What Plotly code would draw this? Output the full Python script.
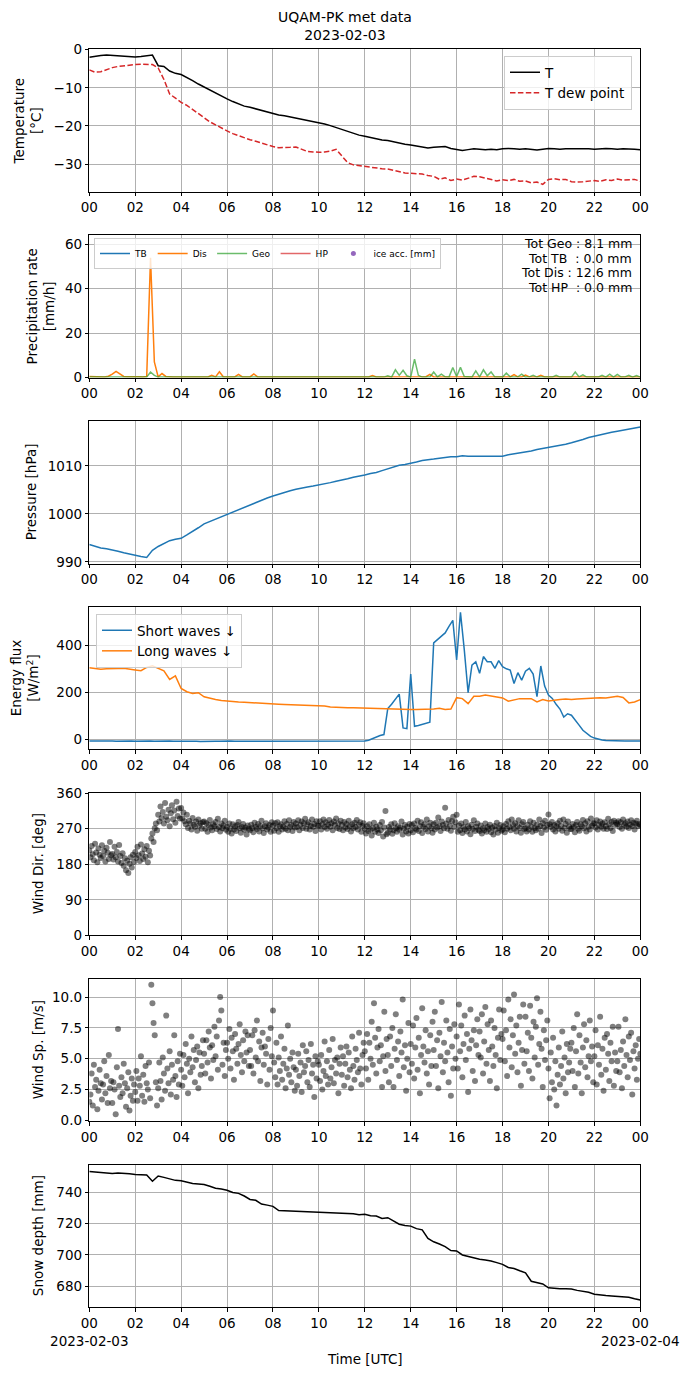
import pandas as pd
import plotly.graph_objects as go
from plotly.subplots import make_subplots

# ---- data, 2023-02-03 (UTC) ----
day_start = pd.Timestamp('2023-02-03 00:00')
day_end = pd.Timestamp('2023-02-04 00:00')

# temperature [degC], 15 min
temp = [-2.0, -1.7, -1.5, -1.4, -1.5, -1.6, -1.8, -1.9, -1.9, -1.8, -1.6, -1.4,
        -4.2, -4.4, -5.6, -6.2, -6.5, -7.2, -8.1, -9.0, -9.8, -10.6, -11.5, -12.2,
        -12.9, -13.6, -14.3, -14.8, -15.1, -15.5, -15.9, -16.4, -16.8, -17.1, -17.3, -17.6,
        -17.8, -18.1, -18.4, -18.7, -19.1, -19.5, -19.9, -20.4, -21.0, -21.5, -21.9, -22.4,
        -22.7, -23.1, -23.5, -23.7, -23.8, -24.2, -24.6, -24.8, -25.0, -25.3, -25.5, -25.8,
        -25.6, -25.5, -25.4, -25.9, -26.1, -26.4, -26.2, -26.0, -26.1, -26.2, -26.1, -26.2,
        -26.0, -25.9, -26.0, -26.1, -26.0, -26.1, -26.3, -26.1, -25.9, -26.0, -26.1, -26.0,
        -26.0, -26.0, -25.9, -26.0, -26.1, -26.0, -25.9, -26.0, -26.1, -26.0, -26.0, -26.1,
        -26.2]
dew_point = [-5.3, -5.9, -5.8, -5.2, -4.7, -4.4, -4.2, -4.0, -3.9, -3.8, -3.8, -3.9,
             -4.8, -7.8, -11.6, -12.8, -13.8, -14.6, -15.7, -16.9, -17.9, -18.9, -19.7, -20.6,
             -21.3, -22.0, -22.6, -23.2, -23.6, -24.0, -24.5, -25.0, -25.4, -25.7, -25.7, -25.6,
             -25.5, -26.2, -26.7, -26.8, -26.9, -26.8, -26.6, -26.1, -27.8, -29.6, -30.2, -30.4,
             -30.6, -30.9, -31.1, -31.2, -31.3, -31.6, -31.9, -32.3, -32.4, -32.5, -32.6, -33.0,
             -33.2, -34.0, -33.6, -34.3, -33.9, -34.2, -33.7, -33.2, -33.3, -33.6, -33.9, -34.4,
             -34.1, -34.3, -34.0, -34.5, -34.4, -34.9, -34.7, -35.3, -34.0, -33.8, -34.1, -34.0,
             -34.6, -34.7, -34.6, -34.5, -34.3, -34.5, -34.1, -34.3, -33.9, -34.2, -34.1, -34.0,
             -34.5]

# precipitation rate [mm/h], 10 min
dis_rate = [0.5, 0.4, 0.5, 0.4, 0.3, 0.6, 1.5, 2.8, 1.6, 0.5, 0.4, 0.5,
            0.6, 0.4, 0.3, 0.5, 54.0, 7.0, 0.3, 1.8, 0.5, 0.3, 0.3, 0.3,
            0.3, 0.3, 0.3, 0.3, 0.3, 0.3, 0.3, 0.3, 1.0, 0.3, 2.6, 0.4,
            0.3, 0.3, 0.3, 1.4, 0.3, 0.3, 0.3, 1.6, 0.3, 0.3, 0.3, 0.3,
            0.3, 0.3, 0.3, 0.3, 0.3, 0.3, 0.3, 0.3, 0.3, 0.3, 0.3, 0.3,
            0.3, 0.3, 0.3, 0.3, 0.3, 0.3, 0.3, 0.3, 0.3, 0.3, 0.3, 0.3,
            0.3, 0.3, 0.9, 0.3, 0.3, 0.3, 0.3, 0.3, 0.3, 0.3, 0.3, 0.3,
            0.3, 0.3, 0.3, 0.3, 0.4, 1.4, 0.3, 0.3, 0.3, 0.3, 0.3, 0.3,
            0.3, 0.3, 0.3, 0.3, 0.3, 0.3, 0.3, 0.3, 0.3, 0.3, 0.3, 0.3,
            0.3, 0.3, 0.3, 1.3, 0.3, 0.3, 1.1, 0.3, 0.3, 0.3, 1.0, 0.3,
            0.3, 0.3, 0.3, 0.3, 0.3, 0.3, 0.3, 0.3, 0.3, 0.3, 0.3, 0.3,
            0.3, 0.3, 0.3, 0.3, 0.3, 0.3, 0.3, 0.3, 0.3, 0.3, 0.3, 0.3,
            0.3]
geo_rate = [0.2, 0.2, 0.2, 0.2, 0.2, 0.2, 0.2, 0.2, 0.2, 0.2, 0.2, 0.2,
            0.2, 0.2, 0.2, 0.2, 2.5, 1.0, 0.2, 0.2, 0.2, 0.2, 0.2, 0.2,
            0.2, 0.2, 0.2, 0.2, 0.2, 0.2, 0.2, 0.2, 0.2, 0.2, 0.2, 0.2,
            0.2, 0.2, 0.2, 0.2, 0.2, 0.2, 0.2, 0.2, 0.2, 0.2, 0.2, 0.2,
            0.2, 0.2, 0.2, 0.2, 0.2, 0.2, 0.2, 0.2, 0.2, 0.2, 0.2, 0.2,
            0.2, 0.2, 0.2, 0.2, 0.2, 0.2, 0.2, 0.2, 0.2, 0.2, 0.5, 0.2,
            0.2, 0.2, 0.2, 0.2, 0.2, 0.2, 0.8, 0.2, 3.5, 1.0, 3.3, 0.8,
            0.2, 8.3, 1.0, 0.2, 0.2, 0.2, 2.5, 0.3, 1.5, 0.3, 0.2, 4.5,
            0.5, 4.6, 0.5, 0.2, 0.2, 3.0, 0.3, 3.5, 0.8, 2.5, 0.2, 0.2,
            0.2, 2.0, 0.3, 0.2, 0.3, 1.5, 0.2, 0.3, 1.0, 0.2, 0.2, 0.2,
            0.2, 0.2, 1.0, 0.2, 0.2, 0.2, 0.2, 2.5, 0.3, 1.2, 0.2, 0.2,
            0.2, 0.2, 1.0, 0.2, 1.5, 0.2, 1.4, 0.2, 0.3, 1.0, 0.2, 0.9,
            0.2]
precip_totals = {'Geo': 8.1, 'TB': 0.0, 'Dis': 12.6, 'HP': 0.0}

# pressure [hPa], 15 min
pressure = [993.6, 993.2, 992.9, 992.7, 992.5, 992.2, 991.9, 991.6, 991.3, 991.1, 990.9, 992.4,
            993.2, 993.8, 994.4, 994.7, 994.9, 995.6, 996.3, 997.1, 997.9, 998.4, 998.9, 999.4,
            999.8, 1000.4, 1000.9, 1001.4, 1001.9, 1002.4, 1002.8, 1003.3, 1003.7, 1004.1, 1004.5, 1004.8,
            1005.1, 1005.4, 1005.6, 1005.8, 1006.0, 1006.3, 1006.5, 1006.8, 1007.0, 1007.3, 1007.6, 1007.8,
            1008.1, 1008.4, 1008.6, 1009.0, 1009.4, 1009.8, 1010.1, 1010.3, 1010.5, 1010.8, 1011.1, 1011.2,
            1011.4, 1011.6, 1011.8, 1011.9, 1011.9, 1012.1, 1012.0, 1012.0, 1012.0, 1012.0, 1011.9, 1011.9,
            1012.0, 1012.3, 1012.5, 1012.6, 1012.8, 1013.1, 1013.4, 1013.6, 1013.8, 1014.0, 1014.2, 1014.5,
            1014.8, 1015.1, 1015.5, 1015.9, 1016.2, 1016.5, 1016.7, 1017.0, 1017.2, 1017.4, 1017.6, 1017.9,
            1018.1]

# radiation [W/m2]: short waves 10 min, long waves 15 min
short_waves = [-5, -4, -6, -5, -5, -4, -5, -6, -5, -4, -5, -5,
               -6, -5, -4, -5, -5, -6, -5, -5, -4, -5, -6, -5,
               -7, -6, -6, -5, -6, -7, -6, -6, -5, -6, -6, -5,
               -6, -5, -6, -6, -5, -5, -6, -5, -5, -6, -5, -5,
               -5, -6, -5, -5, -4, -5, -5, -5, -6, -5, -5, -5,
               -6, -5, -5, -6, -5, -5, -5, -5, -6, -5, -5, -5,
               -5, -2, 5, 11, 18, 22, 132, 150, 170, 193, 50, 47,
               278, 57, 60, 65, 70, 74, 410, 425, 440, 452, 480, 505,
               338, 539, 380, 199, 316, 330, 281, 352, 330, 330, 302, 335,
               309, 300, 295, 238, 284, 252, 290, 302, 278, 182, 312, 227,
               189, 175, 150, 130, 96, 110, 104, 85, 62, 40, 25, 14,
               7, 2, -1, -3, -4, -5, -5, -4, -5, -5, -4, -5,
               -5]
long_waves = [305, 300, 298, 300, 302, 301, 302, 300, 295, 292, 306, 313,
              302, 292, 255, 270, 217, 203, 196, 199, 182, 175, 170, 166,
              163, 161, 160, 159, 157, 155, 153, 151, 150, 150, 149, 148,
              148, 147, 146, 146, 146, 143, 139, 137, 136, 135, 135, 134,
              133, 133, 132, 131, 130, 130, 129, 129, 128, 128, 128, 130,
              130, 133, 128, 130, 178, 174, 153, 184, 184, 189, 184, 182,
              177, 163, 170, 174, 174, 174, 160, 170, 164, 168, 170, 172,
              170, 172, 174, 176, 177, 178, 177, 180, 184, 179, 156, 160,
              170]

# wind direction [deg], 3 min (one row per hour)
wind_dir = [215, 198, 226, 205, 190, 232, 210, 185, 220, 204, 196, 228, 201, 214, 187, 222, 209, 193, 236, 203,
            206, 192, 224, 198, 211, 187, 229, 201, 183, 208, 176, 195, 165, 189, 158, 181, 198, 172, 204, 186,
            211, 196, 224, 203, 188, 230, 207, 193, 218, 199, 226, 185, 214, 202, 245, 258, 236, 271, 283, 266,
            305, 288, 326, 297, 312, 283, 335, 300, 291, 318, 276, 309, 329, 294, 316, 285, 338, 302, 321, 296,
            322, 296, 311, 289, 281, 305, 272, 290, 283, 268, 297, 280, 275, 288, 265, 293, 278, 284, 270, 286,
            288, 270, 284, 262, 279, 292, 273, 266, 281, 276, 287, 269, 295, 274, 263, 283, 271, 278, 290, 267,
            275, 262, 283, 270, 258, 281, 268, 276, 264, 279, 287, 271, 260, 274, 282, 267, 273, 255, 278, 269,
            266, 280, 272, 261, 285, 274, 269, 282, 263, 277, 290, 271, 259, 276, 284, 268, 273, 279, 262, 286,
            278, 265, 284, 271, 286, 262, 276, 281, 268, 275, 289, 270, 282, 266, 291, 274, 279, 264, 287, 273,
            283, 274, 291, 266, 279, 288, 272, 284, 295, 270, 281, 286, 268, 277, 293, 275, 282, 264, 289, 278,
            277, 289, 268, 281, 293, 274, 286, 270, 280, 292, 275, 284, 266, 288, 279, 296, 272, 283, 269, 290,
            279, 266, 287, 273, 282, 269, 290, 276, 263, 281, 271, 285, 274, 292, 268, 280, 286, 262, 277, 284,
            270, 258, 276, 264, 281, 267, 253, 272, 285, 262, 275, 268, 259, 279, 266, 287, 250, 273, 315, 256,
            260, 274, 268, 281, 257, 266, 284, 271, 262, 276, 267, 273, 288, 255, 270, 279, 263, 275, 258, 282,
            266, 279, 261, 283, 272, 268, 290, 264, 277, 286, 259, 274, 281, 269, 293, 263, 276, 285, 271, 260,
            281, 268, 285, 273, 298, 276, 264, 288, 279, 271, 323, 283, 270, 292, 277, 265, 289, 300, 274, 286,
            305, 262, 278, 266, 283, 259, 274, 268, 287, 263, 276, 271, 256, 280, 269, 291, 264, 275, 283, 267,
            264, 278, 258, 271, 266, 283, 262, 274, 269, 280, 261, 273, 255, 277, 268, 285, 260, 272, 279, 265,
            268, 276, 261, 282, 270, 289, 274, 266, 293, 279, 270, 284, 263, 277, 291, 272, 260, 281, 287, 269,
            271, 263, 280, 268, 289, 275, 262, 285, 272, 266, 280, 270, 293, 277, 259, 284, 273, 290, 267, 279,
            306, 281, 274, 287, 268, 279, 263, 276, 284, 270, 290, 277, 265, 293, 272, 282, 260, 288, 275, 269,
            269, 282, 274, 261, 279, 287, 270, 265, 281, 276, 292, 271, 284, 263, 289, 275, 268, 296, 278, 283,
            284, 273, 291, 268, 279, 288, 275, 283, 270, 286, 277, 269, 295, 281, 272, 287, 264, 290, 279, 285,
            281, 289, 274, 286, 270, 293, 279, 284, 275, 288, 272, 280, 291, 277, 285, 268, 283, 290, 276, 282,
            279]

# wind speed [m/s], 3 min (one row per hour)
wind_speed = [1.5, 2.1, 3.8, 1.2, 4.5, 2.7, 3.3, 0.9, 2.4, 4.1, 3.0, 1.7, 2.9, 4.8, 2.2, 3.6, 1.4, 5.3, 2.6, 3.2,
              1.4, 3.1, 2.5, 0.5, 4.3, 7.4, 2.8, 1.9, 3.5, 2.2, 4.6, 3.0, 1.1, 2.6, 3.9, 0.8, 2.0, 3.4, 1.6, 2.9,
              2.3, 4.0, 1.6, 3.4, 2.8, 5.2, 2.0, 3.7, 1.5, 4.4, 3.0, 2.5, 4.7, 1.8, 11.0, 9.5, 7.9, 6.9, 3.1, 1.2,
              2.6, 4.7, 3.2, 1.7, 5.1, 3.8, 2.4, 8.5, 4.2, 3.0, 5.6, 2.1, 4.5, 3.3, 6.9, 3.6, 1.9, 4.8, 2.9, 5.4,
              4.1, 2.8, 5.3, 3.5, 6.2, 4.6, 2.2, 5.0, 3.9, 6.8, 4.3, 5.7, 3.1, 4.9, 6.0, 2.6, 5.5, 3.7, 4.4, 6.5,
              5.4, 3.8, 6.5, 4.7, 7.2, 5.9, 3.4, 6.1, 4.9, 7.6, 5.2, 6.8, 4.1, 8.1, 10.0, 8.9, 4.5, 6.3, 3.6, 5.7,
              6.3, 5.0, 7.4, 4.2, 6.7, 5.6, 3.3, 7.0, 5.8, 4.6, 6.2, 7.8, 5.3, 3.9, 6.5, 4.8, 7.2, 5.5, 6.9, 4.4,
              5.7, 4.4, 6.9, 3.8, 7.3, 5.1, 8.1, 4.8, 6.4, 3.2, 5.9, 7.1, 4.5, 6.0, 5.4, 2.9, 6.6, 4.1, 7.5, 5.2,
              8.9, 4.7, 3.5, 6.3, 2.9, 5.1, 4.0, 6.8, 3.3, 4.6, 5.8, 2.6, 4.2, 7.7, 3.7, 5.0, 3.1, 5.5, 4.3, 2.4,
              4.1, 2.8, 5.4, 3.6, 4.7, 2.3, 6.1, 3.9, 4.4, 5.6, 3.1, 4.9, 2.7, 6.2, 3.8, 4.5, 1.9, 5.2, 3.4, 4.8,
              4.5, 3.2, 5.3, 2.5, 4.0, 6.4, 3.6, 4.8, 2.9, 5.7, 3.4, 4.3, 6.6, 3.0, 4.9, 3.8, 5.1, 2.2, 4.6, 5.9,
              3.7, 5.2, 2.8, 4.6, 6.0, 3.5, 5.5, 4.1, 2.6, 6.8, 4.4, 3.3, 5.8, 4.9, 3.9, 7.1, 4.2, 2.9, 5.3, 6.3,
              5.6, 4.2, 7.0, 3.3, 6.3, 5.0, 8.0, 4.5, 9.5, 6.7, 3.8, 5.9, 7.4, 4.8, 6.1, 2.7, 5.2, 8.8, 4.0, 6.6,
              5.3, 3.1, 6.8, 4.4, 7.5, 2.7, 5.8, 8.6, 4.9, 6.4, 3.6, 7.2, 5.5, 9.8, 4.3, 6.1, 2.4, 5.0, 7.9, 3.9,
              6.2, 4.6, 7.7, 3.4, 5.9, 8.3, 4.1, 6.7, 2.2, 5.3, 9.1, 6.0, 4.7, 7.3, 3.8, 5.6, 2.9, 6.9, 4.4, 8.0,
              5.7, 8.8, 4.4, 6.5, 2.6, 7.1, 5.2, 9.6, 3.9, 6.3, 4.8, 8.1, 5.5, 3.1, 7.4, 2.0, 6.0, 4.2, 7.8, 5.0,
              6.8, 4.2, 9.4, 5.6, 7.7, 3.5, 6.2, 8.5, 4.9, 7.0, 2.3, 5.8, 9.0, 6.5, 4.0, 7.3, 3.2, 6.1, 8.2, 5.3,
              7.2, 5.1, 8.6, 3.8, 6.4, 9.2, 4.6, 7.8, 5.7, 3.2, 8.1, 6.0, 4.4, 7.5, 5.3, 2.6, 6.7, 9.0, 4.9, 7.0,
              6.6, 8.9, 4.8, 7.3, 3.6, 9.8, 5.9, 8.2, 4.3, 6.9, 10.2, 5.4, 7.7, 3.9, 6.3, 8.4, 2.8, 5.7, 9.4, 4.6,
              8.4, 5.6, 7.1, 4.0, 9.3, 6.7, 3.4, 8.0, 5.1, 7.6, 9.9, 4.5, 6.2, 8.8, 5.8, 2.7, 7.3, 4.9, 6.5, 8.1,
              4.2, 1.8, 5.5, 3.1, 6.7, 2.5, 4.8, 1.2, 3.7, 5.9, 2.9, 4.4, 7.2, 3.4, 5.1, 2.2, 6.2, 3.9, 4.7, 5.8,
              6.3, 4.0, 7.5, 2.7, 5.6, 8.6, 3.8, 6.9, 4.7, 2.2, 5.9, 7.8, 4.3, 6.5, 3.5, 5.2, 8.1, 4.8, 6.0, 3.1,
              5.2, 7.3, 2.9, 6.1, 4.5, 8.4, 3.7, 5.8, 2.4, 6.7, 4.1, 7.0, 5.4, 3.2, 6.3, 4.8, 7.6, 2.8, 5.5, 4.0,
              4.8, 7.6, 3.9, 5.7, 2.6, 6.4, 4.4, 8.2, 5.3, 3.5, 6.8, 4.9, 7.1, 2.1, 5.6, 4.2, 6.1, 3.3, 5.0, 6.6,
              5.4]

# snow depth [mm], 15 min
snow_depth = [753.2, 752.8, 752.4, 752.2, 752.0, 752.3, 752.2, 751.8, 751.4, 751.3, 751.0, 747.0,
              750.4, 749.5, 748.4, 747.6, 747.4, 746.6, 745.6, 745.3, 745.0, 743.8, 742.6, 742.1,
              741.3, 739.9, 739.3, 737.6, 735.4, 734.9, 732.5, 731.8, 731.0, 728.3, 728.1, 727.8,
              727.6, 727.6, 727.5, 727.4, 727.3, 727.2, 727.0, 727.1, 726.8, 726.5, 726.3, 725.6,
              726.0, 725.0, 724.8, 723.3, 723.8, 721.5, 719.6, 718.8, 718.4, 716.8, 716.0, 710.5,
              708.4, 707.0, 705.3, 702.8, 702.6, 700.0, 699.0, 697.8, 697.2, 696.8, 696.2, 695.1,
              694.0, 692.0, 691.3, 689.9, 688.6, 683.2, 682.3, 681.5, 679.0, 678.6, 678.5, 678.5,
              678.3, 677.4, 677.0, 676.2, 675.0, 674.4, 674.1, 673.8, 673.6, 673.3, 673.0, 672.1,
              671.3]


def times(values, freq):
    return pd.date_range(day_start, periods=len(values), freq=freq)


# ---- figure ----
W, H = 690, 1376
fig = make_subplots(rows=7, cols=1)

font = dict(family='DejaVu Sans', size=13.5, color='black')

fig.add_trace(go.Scatter(x=times(temp, '15min'), y=temp, mode='lines', name='T',
                         line=dict(color='black', width=1.5), legend='legend'), row=1, col=1)
fig.add_trace(go.Scatter(x=times(dew_point, '15min'), y=dew_point, mode='lines', name='T dew point',
                         line=dict(color='#d62728', width=1.5, dash='5.5px,2.4px'), legend='legend'),
              row=1, col=1)

# TB / HP gauges and ice accretion had no data this day (totals 0.0)
fig.add_trace(go.Scatter(x=[None], y=[None], mode='lines', name='TB', legendrank=1,
                         line=dict(color='#1f77b4', width=1.5), legend='legend2'), row=2, col=1)
fig.add_trace(go.Scatter(x=[None], y=[None], mode='lines', name='HP', legendrank=4, opacity=0.7,
                         line=dict(color='#d62728', width=1.5), legend='legend2'), row=2, col=1)
fig.add_trace(go.Scatter(x=times(dis_rate, '10min'), y=dis_rate, mode='lines', name='Dis', legendrank=2,
                         line=dict(color='#ff7f0e', width=1.5), legend='legend2'), row=2, col=1)
fig.add_trace(go.Scatter(x=times(geo_rate, '10min'), y=geo_rate, mode='lines', name='Geo', legendrank=3,
                         opacity=0.7, line=dict(color='#2ca02c', width=1.5), legend='legend2'), row=2, col=1)
fig.add_trace(go.Scatter(x=[None], y=[None], mode='markers', name='ice acc. [mm]', legendrank=5,
                         marker=dict(color='#9467bd', size=5), legend='legend2'), row=2, col=1)

fig.add_trace(go.Scatter(x=times(pressure, '15min'), y=pressure, mode='lines', showlegend=False,
                         line=dict(color='#1f77b4', width=1.5)), row=3, col=1)

fig.add_trace(go.Scatter(x=times(short_waves, '10min'), y=short_waves, mode='lines', name='Short waves \u2193',
                         line=dict(color='#1f77b4', width=1.5), legend='legend3'), row=4, col=1)
fig.add_trace(go.Scatter(x=times(long_waves, '15min'), y=long_waves, mode='lines', name='Long waves \u2193',
                         line=dict(color='#ff7f0e', width=1.5), legend='legend3'), row=4, col=1)

dots = dict(color='black', size=6, opacity=0.5, line=dict(width=0))
fig.add_trace(go.Scatter(x=times(wind_dir, '3min'), y=wind_dir, mode='markers', showlegend=False,
                         marker=dots), row=5, col=1)
fig.add_trace(go.Scatter(x=times(wind_speed, '3min'), y=wind_speed, mode='markers', showlegend=False,
                         marker=dots), row=6, col=1)

fig.add_trace(go.Scatter(x=times(snow_depth, '15min'), y=snow_depth, mode='lines', showlegend=False,
                         line=dict(color='black', width=1.5)), row=7, col=1)

# panel geometry in pixels (matplotlib-like layout)
left, right = 89.3, 640.3
tops = [49.3 + k * 185.95 for k in range(7)]
panel_h = 142.3

tick_times = pd.date_range(day_start, day_end, freq='2h')
tick_labels = [t.strftime('%H') for t in tick_times]
last_labels = list(tick_labels)
last_labels[0] = '00<br>2023-02-03'
last_labels[-1] = '00<br>2023-02-04'

yranges = [[-37.2, 0.1], [0, 64.1], [989.65, 1019.3], [-41, 561], [0, 360], [-0.08, 11.46], [666.6, 757.4]]
ydticks = [10, 20, 10, 200, 90, 2.5, 20]

axis_style = dict(showgrid=True, gridcolor='#b0b0b0', gridwidth=0.8, zeroline=False,
                  showline=True, linecolor='black', linewidth=1, mirror=True,
                  ticks='outside', ticklen=3.5, tickwidth=0.8, tickcolor='black',
                  tickfont=font, automargin=False)

for i in range(7):
    n = i + 1
    top = tops[i]
    bottom = top + panel_h
    fig.update_xaxes(row=n, col=1, domain=[left / W, right / W], type='date',
                     range=[day_start, day_end], tickvals=tick_times, tickangle=0,
                     ticktext=last_labels if n == 7 else tick_labels, **axis_style)
    fig.update_yaxes(row=n, col=1, domain=[1 - bottom / H, 1 - top / H],
                     range=yranges[i], dtick=ydticks[i], tick0=0, **axis_style)
fig.update_yaxes(row=6, col=1, tickformat='.1f')

# y labels
ylabels = [('Temperature<br>[°C]', 28), ('Precipitation rate<br>[mm/h]', 41), ('Pressure [hPa]', 31),
           ('Energy flux<br>[W/m<sup>2</sup>]', 25), ('Wind Dir. [deg]', 38), ('Wind Sp. [m/s]', 38),
           ('Snow depth [mm]', 38)]
for i, (txt, xpx) in enumerate(ylabels):
    fig.add_annotation(text=txt, x=xpx / W, y=1 - (tops[i] + panel_h / 2) / H, xref='paper', yref='paper',
                       textangle=-90, showarrow=False, xanchor='center', yanchor='middle', font=font)

fig.add_annotation(text='Time [UTC]', x=(left + right) / 2 / W, y=1 - 1359 / H, xref='paper', yref='paper',
                   showarrow=False, xanchor='center', yanchor='middle', font=font)

fig.add_annotation(text='UQAM-PK met data<br>2023-02-03', x=0.5, y=1 - 7 / H, xref='paper', yref='paper',
                   showarrow=False, xanchor='center', yanchor='top',
                   font=dict(family='DejaVu Sans', size=14, color='black'))

# precipitation totals, one line each (tighter spacing than <br>)
tot_lines = ['Tot Geo : %.1f mm' % precip_totals['Geo'],
             'Tot TB\u00a0\u00a0: %.1f mm' % precip_totals['TB'],
             'Tot Dis : %.1f mm' % precip_totals['Dis'],
             'Tot HP\u00a0\u00a0: %.1f mm' % precip_totals['HP']]
for k, line in enumerate(tot_lines):
    fig.add_annotation(text=line, x=634 / W, y=1 - (243.5 + 14.5 * k) / H, xref='paper', yref='paper',
                       showarrow=False, xanchor='right', yanchor='middle', align='right',
                       font=dict(family='DejaVu Sans', size=12.5, color='black'))

legend_box = dict(bgcolor='rgba(255,255,255,0.8)', bordercolor='#cccccc', borderwidth=1)
fig.update_layout(
    width=W, height=H, autosize=False,
    margin=dict(l=0, r=0, t=0, b=0),
    paper_bgcolor='white', plot_bgcolor='white',
    font=font,
    legend=dict(x=632 / W, y=1 - 56 / H, xanchor='right', yanchor='top', font=dict(size=13.5), **legend_box),
    legend2=dict(x=94 / W, y=1 - 238 / H, xanchor='left', yanchor='top', orientation='h',
                 font=dict(size=9), itemwidth=30, tracegroupgap=0, **legend_box),
    legend3=dict(x=96 / W, y=1 - 614 / H, xanchor='left', yanchor='top', font=dict(size=13.5), **legend_box),
)

# the page body has a default 8px margin; drop it so the figure fills the window
fig.write_html("out.html", config={'displayModeBar': False},
               post_script="document.body.style.margin='0px';")
